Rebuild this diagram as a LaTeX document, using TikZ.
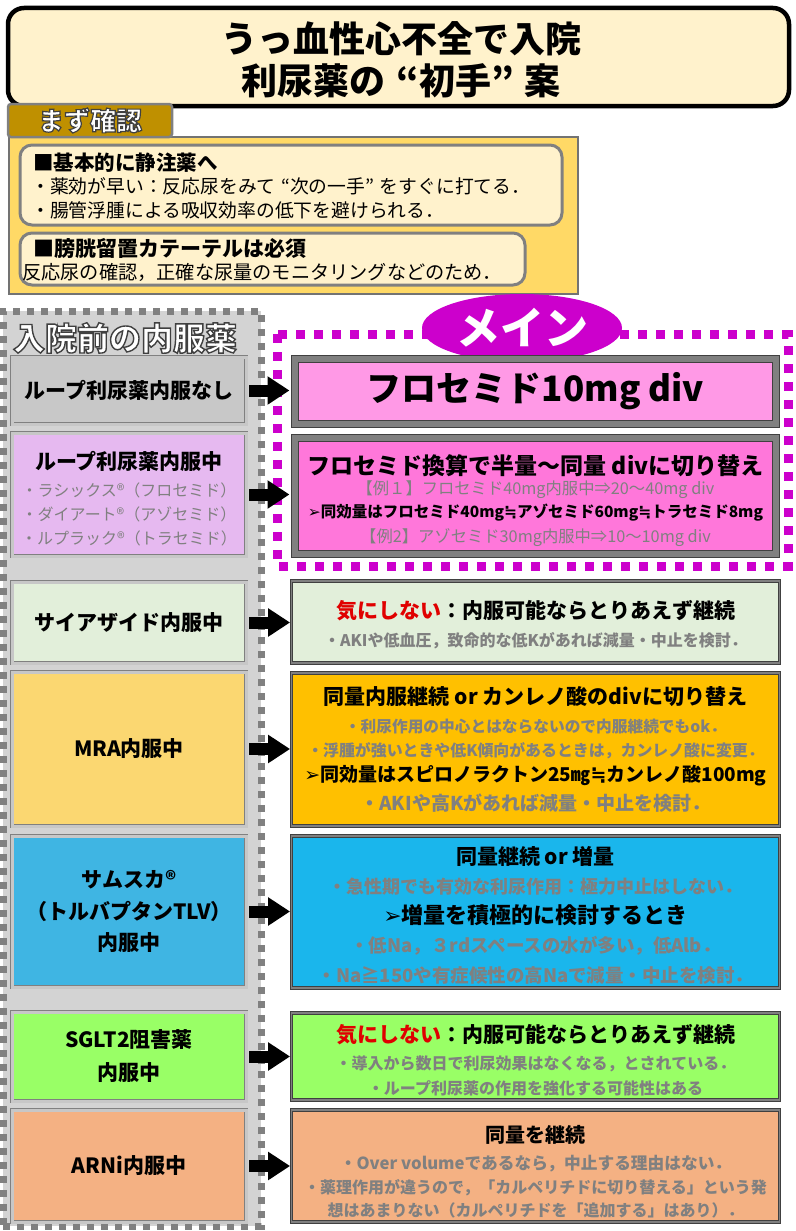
\documentclass[tikz,border=0pt]{standalone}
\usepackage{fontspec}
\setmainfont{Noto Sans CJK JP}
\newfontfamily\symfont{DejaVu Sans}
\usetikzlibrary{arrows.meta,shapes.geometric,calc}

\definecolor{cream}{HTML}{FFF2CC}
\definecolor{chkyellow}{HTML}{FFD966}
\definecolor{tabgold}{HTML}{BF9000}
\definecolor{colgray}{HTML}{D3D3D3}
\definecolor{nashigray}{HTML}{C8C8C8}
\definecolor{lav}{HTML}{E6B9F0}
\definecolor{mag}{HTML}{CC00CC}
\definecolor{pinkA}{HTML}{FF99E6}
\definecolor{pinkB}{HTML}{FF77DA}
\definecolor{mint}{HTML}{E2EFDA}
\definecolor{mraL}{HTML}{FBD771}
\definecolor{mraR}{HTML}{FFC000}
\definecolor{blueL}{HTML}{3FB5E3}
\definecolor{blueR}{HTML}{1AB6EC}
\definecolor{lime}{HTML}{99FF66}
\definecolor{salmon}{HTML}{F4B183}
\definecolor{txtgray}{HTML}{808080}
\definecolor{alert}{HTML}{E00000}

\newcommand\fsz[1]{\fontsize{#1}{#1}\selectfont}
\newcommand\arr{{\symfont ➢}}
\newcommand\nearly{{\symfont ≒}}
% white letters with a dark rim
\newcommand\hollow[2]{\special{pdf:literal direct q 2 Tr #1 w 0.25 0.25 0.25 RG}#2\special{pdf:literal direct Q}}

\tikzset{
  lbox/.style={draw=black!50, line width=0.8pt, double=black!22, double distance=3pt,
    minimum width=234pt, inner sep=0pt, align=center, font=\bfseries\fsz{21}},
  rbox/.style={draw=black!75, line width=0.8pt, double=black!50, double distance=1.6pt,
    minimum width=488pt, inner sep=0pt},
  mbox/.style={draw=black!75, line width=1pt, double=black!50, double distance=6pt,
    minimum width=481pt, inner sep=0pt},
  notebox/.style={draw=black!50, line width=3pt, rounded corners=12pt, fill=cream},
  fatarrow/.style={line width=12pt, -{Triangle[length=22pt,width=27pt]}, shorten <=3pt},
  txt/.style={inner sep=0pt, font=\bfseries\fsz{21}},
  gtxt/.style={inner sep=0pt, text=txtgray, font=\bfseries\fsz{16}},
}

\begin{document}
\begin{tikzpicture}[x=1pt,y=-1pt]
  \useasboundingbox (0,0) rectangle (795,1231);

  % title and first checks
  \node[draw, line width=4.5pt, rounded corners=16pt, fill=cream, minimum width=781pt,
    minimum height=98pt] (title) at (398.5,57) {};
  \node[inner sep=0pt, align=center, font=\bfseries\fontsize{36}{42}\selectfont]
    (titletxt) at (401,60) {うっ血性心不全で入院\\利尿薬の\hspace{0.3em}“初手”\hspace{0.3em}案};
  \node[draw=black!55, line width=2.5pt, fill=chkyellow, minimum width=569pt,
    minimum height=157pt] (check) at (293.5,215.5) {};
  \node[draw=black!50, line width=2.5pt, fill=tabgold, rounded corners=3pt,
    minimum width=164pt, minimum height=33pt] (tab) at (90,120.5) {};
  \node[inner sep=0pt, text=white, font=\bfseries\fsz{26}] (tabtxt) at (tab) {\hollow{1.2}{まず確認}};

  \node[notebox, minimum width=542pt, minimum height=80pt] (note1) at (291,185) {};
  \node[txt, anchor=west, font=\bfseries\fsz{20.5}] (n1a) at (33,163) {■基本的に静注薬へ};
  \node[txt, anchor=west, font=\fsz{18.8}] (n1b) at (31,186) {・薬効が早い：反応尿をみて\hspace{0.3em}“次の一手”\hspace{0.3em}をすぐに打てる．};
  \node[txt, anchor=west, font=\fsz{18.8}] (n1c) at (31,210) {・腸管浮腫による吸収効率の低下を避けられる．};
  \node[notebox, minimum width=505pt, minimum height=52pt] (note2) at (272.5,259) {};
  \node[txt, anchor=west, font=\bfseries\fsz{21}] (n2a) at (33,248) {■膀胱留置カテーテルは必須};
  \node[txt, anchor=west, font=\fsz{19.2}] (n2b) at (22,272) {反応尿の確認，正確な尿量のモニタリングなどのため．};

  % left column
  \node[draw=black!50, line width=7pt, dash pattern=on 7pt off 7pt, fill=colgray,
    minimum width=258pt, minimum height=915pt] (col) at (132,768.5) {};
  \node[inner sep=0pt, text=white, font=\bfseries\fsz{32}] (coltitle) at (125,338) {\hollow{1.4}{入院前の内服薬}};

  \node[lbox, fill=nashigray, minimum height=67pt] (l1) at (129,390.5) {ループ利尿薬内服なし};
  \node[lbox, fill=lav, minimum height=123pt] (l2) at (129,494.5) {};
  \node[txt] (l2a) at (129,461) {ループ利尿薬内服中};
  \node[gtxt, font=\fsz{16}] (l2b) at (129,490) {・ラシックス®（フロセミド）};
  \node[gtxt, font=\fsz{16}] (l2c) at (129,514) {・ダイアート®（アゾセミド）};
  \node[gtxt, font=\fsz{16}] (l2d) at (129,538) {・ルプラック®（トラセミド）};
  \node[lbox, fill=mint, minimum height=81pt] (l3) at (129,622.5) {サイアザイド内服中};
  \node[lbox, fill=mraL, minimum height=154pt] (l4) at (129,749) {MRA内服中};
  \node[lbox, fill=blueL, minimum height=151pt, font=\bfseries\fontsize{21}{31.5}\selectfont]
    (l5) at (129,911.5) {サムスカ®\\（トルバプタンTLV）\\内服中};
  \node[lbox, fill=lime, minimum height=89pt, font=\bfseries\fontsize{21}{33}\selectfont]
    (l6) at (129,1056.5) {SGLT2阻害薬\\内服中};
  \node[lbox, fill=salmon, minimum height=112pt] (l7) at (129,1166) {ARNi内服中};

  % main
  \draw[draw=mag, line width=9pt, dash pattern=on 9pt off 9pt] (277,334) rectangle (788,566);
  \node[ellipse, fill=mag, minimum width=200pt, minimum height=68pt, text=white,
    font=\bfseries\fsz{44}] (main) at (522,328) {メイン};
  \node[mbox, fill=pinkA, minimum height=65pt, font=\bfseries\fsz{35}] (m1) at (535.5,391.5) {フロセミド10mg div};
  \node[mbox, fill=pinkB, minimum height=116pt] (m2) at (535.5,496) {};
  \node[txt, font=\bfseries\fsz{23}] (m2a) at (535.5,466) {フロセミド換算で半量～同量 divに切り替え};
  \node[gtxt, font=\fsz{16.3}] (m2b) at (535.5,490) {【例１】フロセミド40mg内服中⇒20～40mg div};
  \node[txt, font=\bfseries\fsz{15.5}] (m2c) at (535.5,513) {\arr 同効量はフロセミド40mg\nearly アゾセミド60mg\nearly トラセミド8mg};
  \node[gtxt, font=\fsz{16.3}] (m2d) at (535.5,538) {【例2】アゾセミド30mg内服中⇒10～10mg div};

  % other drugs
  \node[rbox, fill=mint, minimum height=82pt] (r3) at (535.5,622) {};
  \node[txt] (r3a) at (535.5,611) {\textcolor{alert}{気にしない}：内服可能ならとりあえず継続};
  \node[gtxt] (r3b) at (535.5,641) {・AKIや低血圧，致命的な低Kがあれば減量・中止を検討．};

  \node[rbox, fill=mraR, minimum height=153pt] (r4) at (535.5,749.5) {};
  \node[txt] (r4a) at (535.5,697) {同量内服継続 or カンレノ酸のdivに切り替え};
  \node[gtxt, font=\bfseries\fsz{15.7}] (r4b) at (535.5,727) {・利尿作用の中心とはならないので内服継続でもok．};
  \node[gtxt, font=\bfseries\fsz{15.9}] (r4c) at (535.5,751) {・浮腫が強いときや低K傾向があるときは，カンレノ酸に変更．};
  \node[txt, font=\bfseries\fsz{19}] (r4d) at (535.5,776) {\arr 同効量はスピロノラクトン25㎎\nearly カンレノ酸100mg};
  \node[gtxt, font=\bfseries\fsz{19}] (r4e) at (535.5,803) {・AKIや高Kがあれば減量・中止を検討．};

  \node[rbox, fill=blueR, minimum height=152pt] (r5) at (535.5,912) {};
  \node[txt] (r5a) at (535.5,856) {同量継続 or 増量};
  \node[gtxt, font=\bfseries\fsz{18}] (r5b) at (535.5,887) {・急性期でも有効な利尿作用：極力中止はしない．};
  \node[txt, font=\bfseries\fsz{22}] (r5c) at (535.5,915) {\arr 増量を積極的に検討するとき};
  \node[gtxt, font=\bfseries\fsz{18.5}] (r5d) at (535.5,946) {・低Na，３rdスペースの水が多い，低Alb．};
  \node[gtxt, font=\bfseries\fsz{18.5}] (r5e) at (535.5,975) {・Na≧150や有症候性の高Naで減量・中止を検討．};

  \node[rbox, fill=lime, minimum height=87pt] (r6) at (535.5,1056.5) {};
  \node[txt] (r6a) at (535.5,1035) {\textcolor{alert}{気にしない}：内服可能ならとりあえず継続};
  \node[gtxt] (r6b) at (535.5,1064) {・導入から数日で利尿効果はなくなる，とされている．};
  \node[gtxt] (r6c) at (535.5,1088) {・ループ利尿薬の作用を強化する可能性はある};

  \node[rbox, fill=salmon, minimum height=112pt] (r7) at (535.5,1166) {};
  \node[txt, font=\bfseries\fsz{20}] (r7a) at (535.5,1135) {同量を継続};
  \node[gtxt, font=\bfseries\fsz{16.7}] (r7b) at (535.5,1164) {・Over volumeであるなら，中止する理由はない．};
  \node[gtxt] (r7c) at (535.5,1188) {・薬理作用が違うので，「カルペリチドに切り替える」という発};
  \node[gtxt] (r7d) at (535.5,1210) {想はあまりない（カルペリチドを「追加する」はあり）．};

  % arrows
  \foreach \l/\r/\s in {l1/m1/5,l2/m2/5,l3/r3/1,l4/r4/1,l5/r5/1,l6/r6/1,l7/r7/1}
    \draw[fatarrow, shorten >=\s pt] (\l.east) -- (\l.east -| \r.west);
\end{tikzpicture}
\end{document}
